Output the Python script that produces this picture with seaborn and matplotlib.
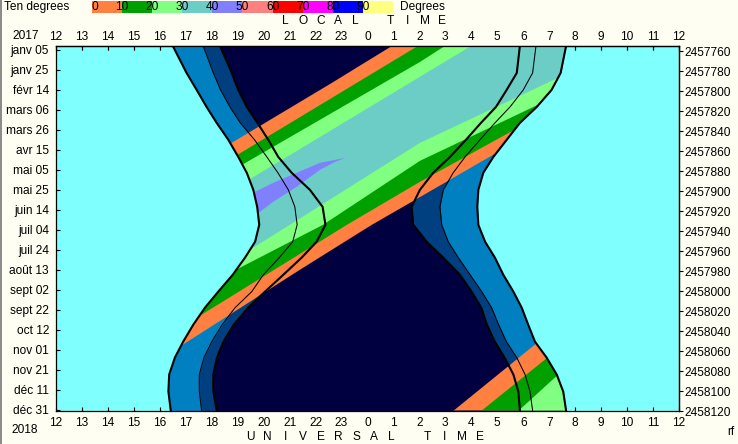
import numpy as np
import matplotlib
matplotlib.use("Agg")
import matplotlib.pyplot as plt
from matplotlib.patches import Polygon, Rectangle
from matplotlib.colors import ListedColormap
import seaborn as sns

# ---------------- data (hours on a 12..36 UT axis, days since 2017-01-01) ----------------
days = [0, 27, 44, 61, 77, 94, 111, 127, 144, 161, 179, 196, 212, 229, 246, 262, 279, 296, 312, 329, 346, 365]

sunset_0 = [16.50, 17.03, 17.42, 17.80, 18.19, 18.64, 19.02, 19.35, 19.60, 19.75, 19.83, 19.67,
            19.28, 18.81, 18.25, 17.74, 17.29, 16.90, 16.58, 16.36, 16.33, 16.42]
dusk_12 = [17.67, 18.06, 18.34, 18.70, 19.10, 19.65, 20.12, 20.55, 20.95, 21.20, 21.29, 21.12,
           20.60, 19.99, 19.54, 18.90, 18.40, 18.00, 17.70, 17.52, 17.52, 17.61]
dusk_18 = [18.32, 18.77, 19.02, 19.35, 19.76, 20.18, 20.56, 21.08, 21.78, 22.27, 22.38, 22.04,
           21.46, 20.76, 20.05, 19.40, 18.85, 18.45, 18.20, 18.06, 18.06, 18.19]
sunrise_0 = [31.65, 31.44, 31.09, 30.52, 29.87, 29.36, 28.85, 28.46, 28.27, 28.23, 28.27, 28.53,
             28.91, 29.23, 29.62, 29.94, 30.19, 30.45, 30.90, 31.29, 31.54, 31.65]
dawn_12 = [30.49, 30.36, 30.00, 29.49, 28.91, 28.33, 27.76, 27.30, 26.92, 26.79, 26.86, 27.11,
           27.50, 27.95, 28.40, 28.78, 29.05, 29.35, 29.75, 30.07, 30.26, 30.36]
dawn_18 = [29.87, 29.75, 29.36, 28.95, 28.37, 27.79, 27.18, 26.53, 26.02, 25.70, 25.76, 26.28,
           26.92, 27.56, 28.01, 28.38, 28.60, 28.90, 29.28, 29.62, 29.81, 29.87]

# object altitude contours: rising side (upper band)
rise_0_h, rise_0_d = [24.94, 22.56, 19.73], [0, 38, 82]
rise_10_h, rise_10_d = [25.94, 22.56], [0, 53]
rise_20_h, rise_20_d = [26.98, 26.02, 22.56], [0, 16, 68]
rise_30_h, rise_30_d = [27.99, 22.56], [0, 85]
# setting side (lower band)
set_0_h, set_0_d = [29.30, 25.64, 24.17, 21.40, 16.89], [102, 157, 179, 224, 299]
set_10_h, set_10_d = [30.07, 26.02, 23.21, 18.05], [78, 136, 179, 262]
set_20_h, set_20_d = [30.64, 26.02, 22.29, 19.09], [58, 115, 179, 222]
set_30_h, set_30_d = [31.49, 26.02, 23.33, 21.01, 19.47], [30, 97, 141, 179, 204]
# next rising (bottom right)
rise2_0_h, rise2_0_d = [30.45, 27.37], [299, 364]
rise2_10_h, rise2_10_d = [30.84, 28.45], [314, 364]
rise2_20_h, rise2_20_d = [31.22, 29.87], [332, 364]
# altitude above 40 degrees
blob_h = [23.15, 22.17, 21.27, 20.37, 19.67, 18.90, 19.28, 19.86, 20.37, 21.27, 22.17, 22.75]
blob_d = [112, 117, 127, 137, 146, 154, 177, 166, 156, 141, 124, 116]

band_labels = ['0', '10', '20', '30', '40', '50', '60', '70', '80', '90']
band_colors = ['#FF8040', '#00A000', '#80FF80', '#6CCCC6', '#8080FF',
               '#FF8080', '#FF0000', '#FF00FF', '#0000FF', '#FFFF80']

hour_ticks = list(range(12, 37))
hour_labels = ['12', '13', '14', '15', '16', '17', '18', '19', '20', '21', '22', '23',
               '0', '1', '2', '3', '4', '5', '6', '7', '8', '9', '10', '11', '12']
date_ticks = [4, 24, 44, 64, 84, 104, 124, 144, 164, 184, 204, 224, 244, 264, 284, 304, 324, 344, 364]
date_labels = ['janv 05', 'janv 25', 'févr 14', 'mars 06', 'mars 26', 'avr 15', 'mai 05', 'mai 25',
               'juin 14', 'juil 04', 'juil 24', 'août 13', 'sept 02', 'sept 22', 'oct 12', 'nov 01',
               'nov 21', 'déc 11', 'déc 31']
jd_ticks = [5.5, 25.5, 45.5, 65.5, 85.5, 105.5, 125.5, 145.5, 165.5, 185.5, 205.5, 225.5, 245.5,
            265.5, 285.5, 305.5, 325.5, 345.5, 365.5]
jd_labels = ['2457760', '2457780', '2457800', '2457820', '2457840', '2457860', '2457880', '2457900',
             '2457920', '2457940', '2457960', '2457980', '2458000', '2458020', '2458040', '2458060',
             '2458080', '2458100', '2458120']

# ---------------- style ----------------
CYAN, BLUE, DKBLUE, NAVY = '#80FFFF', '#0080C0', '#004080', '#000040'
BG = '#FFFEF2'
W, H = 738, 444
FS = 8.6

sns.set_style('white')
plt.rcParams['font.family'] = ['Liberation Sans', 'DejaVu Sans']
plt.rcParams.update({'text.color': 'black', 'axes.edgecolor': 'black',
                     'xtick.color': 'black', 'ytick.color': 'black', 'font.size': FS})

fig = plt.figure(figsize=(W / 100, H / 100), dpi=100)
fig.patch.set_facecolor(BG)


def fx(px):
    return px / W


def fy(py):
    return 1 - py / H


ax = fig.add_axes([fx(56), fy(411), (679 - 56) / W, (411 - 46) / H])
ax.set_facecolor(CYAN)

ax.fill_betweenx(days, sunset_0, sunrise_0, color=BLUE, lw=0, zorder=1)
ax.fill_betweenx(days, dusk_12, dawn_12, color=DKBLUE, lw=0, zorder=1.1)
ax.fill_betweenx(days, dusk_18, dawn_18, color=NAVY, lw=0, zorder=1.2)

night = Polygon(np.column_stack([np.r_[sunset_0, sunrise_0[::-1]], np.r_[days, days[::-1]]]),
                closed=True, transform=ax.transData)


def extend(h, d, far=500.0):
    p = np.column_stack([h, d]).astype(float)
    a = p[0] - p[1]
    a /= np.hypot(*a)
    b = p[-1] - p[-2]
    b /= np.hypot(*b)
    return np.vstack([p[0] + far * a, p, p[-1] + far * b])


def add_poly(pts, color, z):
    patch = Polygon(pts, closed=True, facecolor=color, edgecolor='none', lw=0, zorder=z)
    ax.add_patch(patch)
    patch.set_clip_path(night)


upper = [(rise_0_h, rise_0_d, set_0_h, set_0_d),
         (rise_10_h, rise_10_d, set_10_h, set_10_d),
         (rise_20_h, rise_20_d, set_20_h, set_20_d),
         (rise_30_h, rise_30_d, set_30_h, set_30_d)]
for k, (rh, rd, sh, sd) in enumerate(upper):
    r = extend(rh, rd)
    s = extend(sh, sd)
    add_poly(np.vstack([r, s[::-1]]), band_colors[k], 2 + 0.1 * k)

lower = [(rise2_0_h, rise2_0_d), (rise2_10_h, rise2_10_d), (rise2_20_h, rise2_20_d)]
for k, (rh, rd) in enumerate(lower):
    r = extend(rh, rd)
    pts = np.vstack([r, [[100, r[-1, 1]], [100, r[0, 1]]]])
    add_poly(pts, band_colors[k], 2 + 0.1 * k)

add_poly(np.column_stack([blob_h, blob_d]), band_colors[4], 2.5)

THICK, THIN = 1.5, 0.75
for hh, lw in [(sunset_0, THICK), (dusk_12, THIN), (dusk_18, THICK),
               (sunrise_0, THICK), (dawn_12, THIN), (dawn_18, THICK)]:
    sns.lineplot(x=hh, y=days, sort=False, estimator=None, color='black', lw=lw, ax=ax, zorder=5)

ax.set_xlim(12, 36)
ax.set_ylim(365.5, 0)
ax.set_xlabel('')
ax.set_ylabel('')
for sp in ax.spines.values():
    sp.set_visible(True)
    sp.set_color('black')
    sp.set_linewidth(0.9)
    sp.set_zorder(10)

ax.set_xticks(hour_ticks, labels=hour_labels)
ax.set_yticks(date_ticks, labels=date_labels)
ax.tick_params(axis='x', bottom=True, top=True, labelbottom=True, labeltop=False,
               direction='in', length=3, width=0.8, pad=4.0, labelsize=FS)
ax.tick_params(axis='y', left=True, right=False, direction='in', length=3, width=0.8,
               pad=5.0, labelsize=FS)

top = ax.secondary_xaxis('top')
top.set_xticks(hour_ticks, labels=hour_labels)
top.tick_params(direction='in', length=3, width=0.8, pad=2.5, labelsize=FS)
top.spines['top'].set_linewidth(0.9)

right = ax.secondary_yaxis('right')
right.set_yticks(jd_ticks, labels=jd_labels)
right.tick_params(direction='out', length=3, width=0.8, pad=1.0, labelsize=FS)
right.spines['right'].set_linewidth(0.9)

# ---------------- legend strip ----------------
cax = fig.add_axes([fx(92), fy(13), 301 / W, 12 / H])
sns.heatmap(np.array([[0, 10, 20, 30, 40, 50, 60, 70, 80, 90]]), cmap=ListedColormap(band_colors),
            vmin=0, vmax=100, cbar=False, ax=cax, xticklabels=False, yticklabels=False)
cax.set_axis_off()
for k, lab in enumerate(band_labels):
    fig.text(fx(92 + 30.1 * k), fy(7), lab, ha='left' if k == 0 else 'center', va='center', fontsize=FS)
fig.text(fx(4), fy(7), 'Ten degrees', ha='left', va='center', fontsize=FS)
fig.text(fx(400), fy(7), 'Degrees', ha='left', va='center', fontsize=FS)

for i, ch in enumerate('LOCAL TIME'):
    fig.text(fx(285.5 + 17.4 * i), fy(21), ch, ha='center', va='center', fontsize=FS)
for i, ch in enumerate('UNIVERSAL TIME'):
    fig.text(fx(250 + 17.7 * i), fy(437), ch, ha='center', va='center', fontsize=FS)

fig.text(fx(26), fy(36), '2017', ha='center', va='center', fontsize=FS)
fig.text(fx(25), fy(430), '2018', ha='center', va='center', fontsize=FS)
fig.text(fx(731), fy(432), 'rf', ha='center', va='center', fontsize=FS)

fig.add_artist(Rectangle((0, 0), 2 / W, 1, transform=fig.transFigure, color='#8C8C8C', lw=0))

fig.savefig('out.png', dpi=100, facecolor=BG)
